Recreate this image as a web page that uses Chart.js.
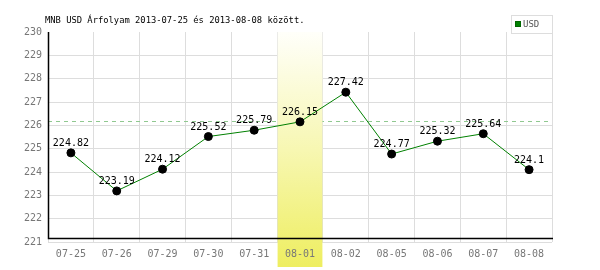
<!DOCTYPE html>
<html>
<head>
<meta charset="utf-8">
<script src="https://cdn.jsdelivr.net/npm/chart.js@4/dist/chart.umd.min.js"></script>
<style>
html,body{margin:0;padding:0;background:#fff;}
#wrap{width:600px;height:270px;position:relative;}
</style>
</head>
<body>
<div id="wrap"><canvas id="c" width="600" height="270"></canvas></div>
<script>
const categories = ['07-25','07-26','07-29','07-30','07-31','08-01','08-02','08-05','08-06','08-07','08-08'];
const usdValues = [224.82, 223.19, 224.12, 225.52, 225.79, 226.15, 227.42, 224.77, 225.32, 225.64, 224.1];
const valueLabels = ['224.82','223.19','224.12','225.52','225.79','226.15','227.42','224.77','225.32','225.64','224.1'];
const yTicks = [221,222,223,224,225,226,227,228,229,230];
const referenceValue = 226.15;
const highlightIndex = 5;
const titleText = 'MNB USD Árfolyam 2013-07-25 és 2013-08-08 között.';
const seriesName = 'USD';

const MONO = '"DejaVu Sans Mono", "Liberation Mono", monospace';

const decor = {
  id: 'decor',
  beforeDatasetsDraw(chart) {
    const ctx = chart.ctx, a = chart.chartArea;
    const x = chart.scales.x, y = chart.scales.y;
    ctx.save();
    // dashed reference line
    const ry = Math.round(y.getPixelForValue(referenceValue)) - 0.5;
    ctx.strokeStyle = '#90c890';
    ctx.lineWidth = 1;
    ctx.setLineDash([4, 4]);
    ctx.beginPath();
    ctx.moveTo(a.left, ry);
    ctx.lineTo(a.right, ry);
    ctx.stroke();
    ctx.setLineDash([]);
    // highlight band
    const cw = x.getPixelForValue(1) - x.getPixelForValue(0);
    const cx = x.getPixelForValue(highlightIndex);
    const bx0 = cx - cw / 2 + 0.5, bx1 = cx + cw / 2 - 0.5;
    const g = ctx.createLinearGradient(0, a.top, 0, 267);
    g.addColorStop(0, '#fffffa');
    g.addColorStop(0.5, '#f7f7b2');
    g.addColorStop(1, '#eeee60');
    ctx.fillStyle = g;
    ctx.fillRect(bx0, a.top, bx1 - bx0, 267 - a.top);
    // axes (black)
    ctx.strokeStyle = '#000';
    ctx.lineWidth = 1.5;
    ctx.beginPath();
    ctx.moveTo(a.left + 0.5, a.top);
    ctx.lineTo(a.left + 0.5, a.bottom - 3.5);
    ctx.lineTo(a.right + 1, a.bottom - 3.5);
    ctx.stroke();
    ctx.restore();
  },
  afterDatasetsDraw(chart) {
    const ctx = chart.ctx;
    const meta = chart.getDatasetMeta(0);
    ctx.save();
    ctx.font = '10px ' + MONO;
    ctx.fillStyle = '#000';
    ctx.textAlign = 'center';
    ctx.textBaseline = 'alphabetic';
    meta.data.forEach((pt, i) => {
      ctx.fillText(valueLabels[i], pt.x, pt.y - 7);
    });
    ctx.restore();
  },
  afterDraw(chart) {
    const ctx = chart.ctx;
    ctx.save();
    // title
    ctx.font = '8.8px ' + MONO;
    ctx.fillStyle = '#000';
    ctx.textAlign = 'left';
    ctx.textBaseline = 'middle';
    ctx.fillText(titleText, 45, 20.5);
    // legend
    ctx.fillStyle = '#fff';
    ctx.fillRect(511, 15, 42, 18);
    ctx.strokeStyle = '#dddddd';
    ctx.lineWidth = 1;
    ctx.strokeRect(511.5, 15.5, 41, 18);
    ctx.fillStyle = '#006600';
    ctx.fillRect(515, 21, 6, 6);
    ctx.fillStyle = '#008000';
    ctx.fillRect(516, 22, 4, 4);
    ctx.font = '9px ' + MONO;
    ctx.fillStyle = '#555';
    ctx.textBaseline = 'middle';
    ctx.fillText(seriesName, 523, 25);
    ctx.restore();
  }
};

new Chart(document.getElementById('c'), {
  type: 'line',
  data: {
    labels: categories,
    datasets: [{
      label: seriesName,
      data: usdValues,
      borderColor: '#008000',
      borderWidth: 1,
      backgroundColor: '#000',
      pointBackgroundColor: '#000',
      pointBorderColor: '#000',
      pointRadius: 4,
      pointHoverRadius: 4,
      tension: 0,
      fill: false
    }]
  },
  options: {
    responsive: false,
    animation: false,
    devicePixelRatio: 1,
    layout: { padding: { top: 32, right: 48, left: 0, bottom: 0 } },
    plugins: { legend: { display: false }, title: { display: false }, tooltip: { enabled: false } },
    scales: {
      x: {
        type: 'category',
        offset: true,
        grid: { display: true, offset: true, color: '#dddddd', drawTicks: false },
        border: { display: false },
        ticks: { z: 1, font: { family: MONO, size: 10 }, color: '#777', padding: 6, maxRotation: 0, autoSkip: false },
        afterFit(s) { s.height = 28; }
      },
      y: {
        min: 221, max: 230,
        afterBuildTicks(s) { s.ticks = yTicks.map(v => ({ value: v })); },
        grid: {
          color: (c) => (c.tick && c.tick.value === 230) ? 'rgba(0,0,0,0)' : '#dddddd',
          drawTicks: false
        },
        border: { display: false },
        ticks: { font: { family: MONO, size: 10 }, color: '#777', padding: 6 },
        afterFit(s) { s.width = 48; }
      }
    }
  },
  plugins: [decor]
});
</script>
</body>
</html>
